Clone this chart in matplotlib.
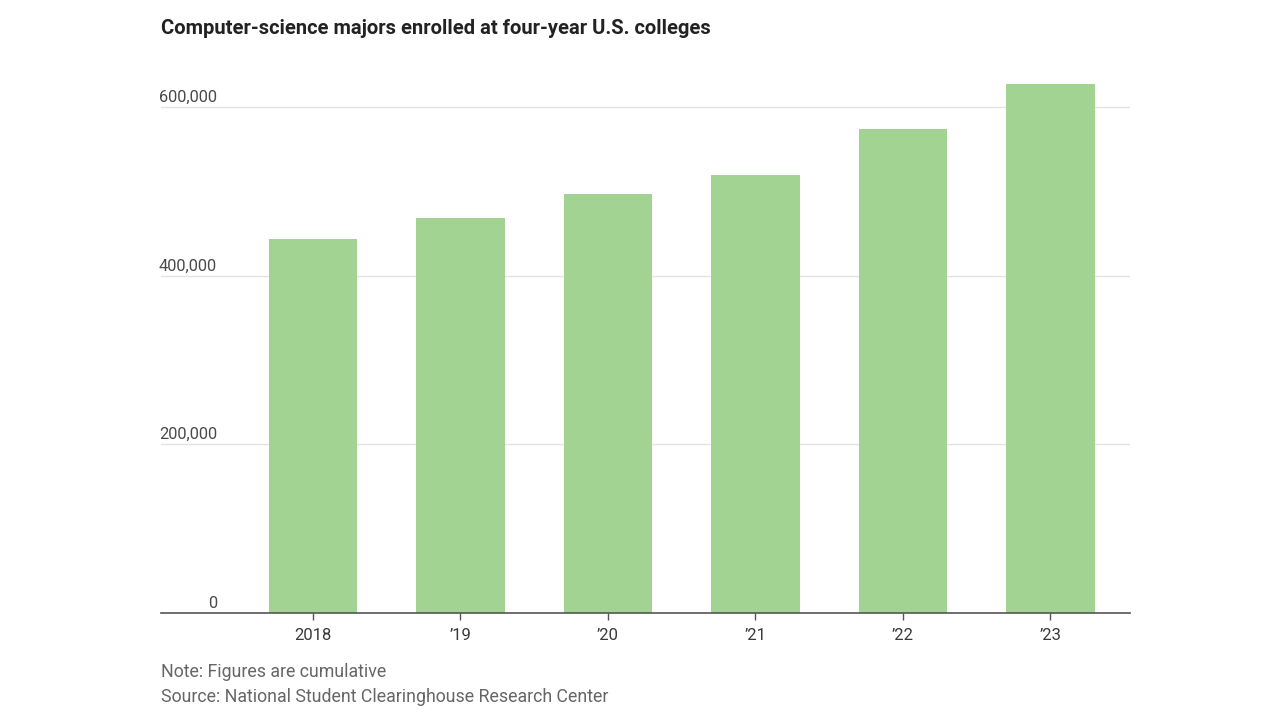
import matplotlib
matplotlib.use("Agg")
import matplotlib.pyplot as plt

years = ["2018", "\u201919", "\u201920", "\u201921", "\u201922", "\u201923"]
majors = [443000, 468000, 497000, 519000, 574000, 627000]
ytick_vals = [0, 200000, 400000, 600000]
ytick_labels = ["0", "200,000", "400,000", "600,000"]

plt.rcParams["font.family"] = ["Roboto", "DejaVu Sans"]

fig = plt.figure(figsize=(12.8, 7.2), dpi=100)
ax = fig.add_axes([161 / 1280, 1 - 613 / 720, 969 / 1280, (613 - 73.3) / 720])

x = list(range(len(years)))
ax.bar(x, majors, width=0.6, color="#a2d392", zorder=2)

ax.set_xlim(-1.03, 5.54)
ax.set_ylim(0, 640000)

# horizontal gridlines with labels sitting above them
for v, lab in zip(ytick_vals, ytick_labels):
    if v > 0:
        ax.axhline(v, color="#e3e3e3", lw=1, zorder=1)
    ax.text(0.0578, v + 2500, lab, transform=ax.get_yaxis_transform(), ha="right",
            va="bottom", fontsize=11.8, color="#4a4a4a")
ax.set_yticks([])

ax.set_xticks(x)
ax.set_xticklabels(years, fontsize=12, color="#3a3a3a")
ax.tick_params(axis="x", length=5, width=1, color="#555555", pad=6)

for s in ["top", "right", "left"]:
    ax.spines[s].set_visible(False)
ax.spines["bottom"].set_color("#555555")
ax.spines["bottom"].set_linewidth(1.2)
ax.spines["bottom"].set_zorder(3)

fig.text(161 / 1280, 1 - 28 / 720, "Computer-science majors enrolled at four-year U.S. colleges",
         fontsize=14.5, fontweight="bold", color="#222222", ha="left", va="center")
fig.text(161 / 1280, 1 - 672 / 720, "Note: Figures are cumulative",
         fontsize=12.8, color="#666666", ha="left", va="center")
fig.text(161 / 1280, 1 - 697 / 720, "Source: National Student Clearinghouse Research Center",
         fontsize=12.8, color="#666666", ha="left", va="center")

fig.savefig("out.png", dpi=100)
